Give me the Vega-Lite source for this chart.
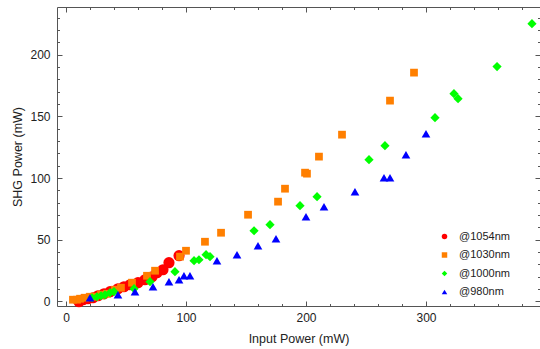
{
  "$schema": "https://vega.github.io/schema/vega-lite/v6.json",
  "autosize": "none",
  "width": 483,
  "height": 299,
  "padding": {"left": 57, "top": 7, "right": 0, "bottom": 43},
  "background": "white",
  "config": {
    "view": {"stroke": "#555555", "strokeWidth": 1},
    "font": "Liberation Sans",
    "axis": {"domain": false, "grid": false, "tickColor": "#555555", "labelColor": "#222222", "titleColor": "#222222", "labelFont": "Liberation Sans", "titleFont": "Liberation Sans", "labelFontSize": 12, "titleFontSize": 12.5, "titleFontWeight": "normal"},
    "legend": {"symbolSize": 30}
  },
  "data": {"values": [
    {"series": "@1054nm", "p": 10.8, "shg": -0.2},
    {"series": "@1054nm", "p": 14.2, "shg": 1.4},
    {"series": "@1054nm", "p": 18.3, "shg": 2.2},
    {"series": "@1054nm", "p": 22.5, "shg": 3.0},
    {"series": "@1054nm", "p": 26.7, "shg": 4.6},
    {"series": "@1054nm", "p": 31.7, "shg": 6.2},
    {"series": "@1054nm", "p": 36.7, "shg": 7.9},
    {"series": "@1054nm", "p": 43.3, "shg": 10.3},
    {"series": "@1054nm", "p": 48.3, "shg": 11.9},
    {"series": "@1054nm", "p": 53.3, "shg": 13.5},
    {"series": "@1054nm", "p": 60.0, "shg": 15.2},
    {"series": "@1054nm", "p": 65.8, "shg": 17.6},
    {"series": "@1054nm", "p": 71.7, "shg": 20.0},
    {"series": "@1054nm", "p": 75.8, "shg": 23.3},
    {"series": "@1054nm", "p": 80.8, "shg": 25.7},
    {"series": "@1054nm", "p": 85.8, "shg": 31.4},
    {"series": "@1054nm", "p": 94.2, "shg": 37.1},
    {"series": "@1030nm", "p": 5.8, "shg": 1.4},
    {"series": "@1030nm", "p": 9.2, "shg": 1.4},
    {"series": "@1030nm", "p": 11.7, "shg": 2.2},
    {"series": "@1030nm", "p": 15.8, "shg": 3.0},
    {"series": "@1030nm", "p": 20.0, "shg": 3.8},
    {"series": "@1030nm", "p": 24.2, "shg": 3.8},
    {"series": "@1030nm", "p": 29.2, "shg": 5.4},
    {"series": "@1030nm", "p": 34.2, "shg": 6.2},
    {"series": "@1030nm", "p": 40.8, "shg": 9.5},
    {"series": "@1030nm", "p": 45.8, "shg": 11.1},
    {"series": "@1030nm", "p": 55.0, "shg": 15.2},
    {"series": "@1030nm", "p": 67.5, "shg": 20.8},
    {"series": "@1030nm", "p": 74.2, "shg": 24.9},
    {"series": "@1030nm", "p": 95.0, "shg": 36.3},
    {"series": "@1030nm", "p": 100.0, "shg": 41.1},
    {"series": "@1030nm", "p": 115.8, "shg": 48.4},
    {"series": "@1030nm", "p": 129.2, "shg": 55.7},
    {"series": "@1030nm", "p": 151.7, "shg": 70.3},
    {"series": "@1030nm", "p": 176.7, "shg": 80.9},
    {"series": "@1030nm", "p": 182.5, "shg": 91.4},
    {"series": "@1030nm", "p": 199.2, "shg": 104.4},
    {"series": "@1030nm", "p": 200.8, "shg": 103.6},
    {"series": "@1030nm", "p": 210.8, "shg": 117.4},
    {"series": "@1030nm", "p": 230.0, "shg": 135.2},
    {"series": "@1030nm", "p": 270.0, "shg": 162.8},
    {"series": "@1030nm", "p": 290.0, "shg": 185.5},
    {"series": "@1000nm", "p": 21.7, "shg": 3.0},
    {"series": "@1000nm", "p": 25.8, "shg": 3.8},
    {"series": "@1000nm", "p": 29.2, "shg": 4.6},
    {"series": "@1000nm", "p": 32.5, "shg": 5.4},
    {"series": "@1000nm", "p": 36.7, "shg": 7.1},
    {"series": "@1000nm", "p": 40.0, "shg": 7.9},
    {"series": "@1000nm", "p": 56.7, "shg": 10.3},
    {"series": "@1000nm", "p": 70.0, "shg": 16.0},
    {"series": "@1000nm", "p": 90.8, "shg": 24.1},
    {"series": "@1000nm", "p": 106.7, "shg": 33.0},
    {"series": "@1000nm", "p": 110.8, "shg": 33.8},
    {"series": "@1000nm", "p": 116.7, "shg": 37.9},
    {"series": "@1000nm", "p": 120.0, "shg": 36.3},
    {"series": "@1000nm", "p": 156.7, "shg": 57.3},
    {"series": "@1000nm", "p": 170.0, "shg": 62.2},
    {"series": "@1000nm", "p": 195.0, "shg": 77.6},
    {"series": "@1000nm", "p": 209.2, "shg": 84.9},
    {"series": "@1000nm", "p": 252.5, "shg": 114.9},
    {"series": "@1000nm", "p": 265.8, "shg": 126.3},
    {"series": "@1000nm", "p": 307.5, "shg": 149.0},
    {"series": "@1000nm", "p": 323.3, "shg": 168.4},
    {"series": "@1000nm", "p": 326.7, "shg": 164.4},
    {"series": "@1000nm", "p": 359.2, "shg": 190.4},
    {"series": "@1000nm", "p": 388.3, "shg": 225.2},
    {"series": "@980nm", "p": 20.0, "shg": 3.0},
    {"series": "@980nm", "p": 43.3, "shg": 5.4},
    {"series": "@980nm", "p": 57.5, "shg": 7.9},
    {"series": "@980nm", "p": 72.5, "shg": 11.9},
    {"series": "@980nm", "p": 85.8, "shg": 16.0},
    {"series": "@980nm", "p": 94.2, "shg": 17.6},
    {"series": "@980nm", "p": 98.3, "shg": 20.8},
    {"series": "@980nm", "p": 103.3, "shg": 20.8},
    {"series": "@980nm", "p": 125.8, "shg": 33.0},
    {"series": "@980nm", "p": 142.5, "shg": 37.9},
    {"series": "@980nm", "p": 160.0, "shg": 45.2},
    {"series": "@980nm", "p": 175.0, "shg": 50.9},
    {"series": "@980nm", "p": 200.0, "shg": 68.7},
    {"series": "@980nm", "p": 215.0, "shg": 76.8},
    {"series": "@980nm", "p": 240.8, "shg": 89.0},
    {"series": "@980nm", "p": 265.0, "shg": 100.3},
    {"series": "@980nm", "p": 270.0, "shg": 100.3},
    {"series": "@980nm", "p": 283.3, "shg": 119.0},
    {"series": "@980nm", "p": 300.0, "shg": 136.0}
  ]},
  "resolve": {"axis": {"x": "independent", "y": "independent"}},
  "layer": [
    {
      "transform": [{"filter": "datum.series === '@1054nm'"}],
      "mark": {"type": "point", "filled": true, "opacity": 1, "size": 125},
      "encoding": {
        "x": {"field": "p", "type": "quantitative", "scale": {"domain": [-7.5, 395], "nice": false, "zero": false},
              "axis": {"orient": "bottom", "values": [0, 100, 200, 300], "tickSize": -5, "labelPadding": 11, "title": "Input Power (mW)", "titlePadding": 9}},
        "y": {"field": "shg", "type": "quantitative", "scale": {"domain": [-3.7, 238.7], "nice": false, "zero": false},
              "axis": {"orient": "left", "values": [0, 50, 100, 150, 200], "tickSize": -5, "labelPadding": 12, "title": "SHG Power (mW)", "titlePadding": 5}},
        "color": {"field": "series", "type": "nominal",
                  "scale": {"domain": ["@1054nm", "@1030nm", "@1000nm", "@980nm"], "range": ["#ff0000", "#ff7f00", "#00ff00", "#0000ff"]},
                  "legend": {"title": null, "orient": "none", "legendX": 382, "legendY": 224, "labelFont": "Liberation Sans", "labelFontSize": 11, "labelColor": "#222222", "symbolSize": 30, "rowPadding": 6.5, "labelOffset": 9, "symbolStrokeWidth": 0}},
        "shape": {"field": "series", "type": "nominal",
                  "scale": {"domain": ["@1054nm", "@1030nm", "@1000nm", "@980nm"], "range": ["circle", "square", "diamond", "triangle-up"]}}
      }
    },
    {
      "transform": [{"filter": "datum.series === '@1030nm'"}],
      "mark": {"type": "point", "filled": true, "opacity": 1, "size": 60},
      "encoding": {
        "x": {"field": "p", "type": "quantitative", "axis": null},
        "y": {"field": "shg", "type": "quantitative", "axis": null},
        "color": {"field": "series", "type": "nominal"},
        "shape": {"field": "series", "type": "nominal"}
      }
    },
    {
      "transform": [{"filter": "datum.series === '@1000nm'"}],
      "mark": {"type": "point", "filled": true, "opacity": 1, "size": 85},
      "encoding": {
        "x": {"field": "p", "type": "quantitative", "axis": null},
        "y": {"field": "shg", "type": "quantitative", "axis": null},
        "color": {"field": "series", "type": "nominal"},
        "shape": {"field": "series", "type": "nominal"}
      }
    },
    {
      "transform": [{"filter": "datum.series === '@980nm'"}],
      "mark": {"type": "point", "filled": true, "opacity": 1, "size": 75},
      "encoding": {
        "x": {"field": "p", "type": "quantitative", "axis": null},
        "y": {"field": "shg", "type": "quantitative", "axis": null},
        "color": {"field": "series", "type": "nominal"},
        "shape": {"field": "series", "type": "nominal"}
      }
    },
    {
      "mark": {"type": "point", "opacity": 0},
      "encoding": {
        "x": {"field": "p", "type": "quantitative", "axis": {"orient": "bottom", "values": [20, 40, 60, 80, 120, 140, 160, 180, 220, 240, 260, 280, 320, 340, 360, 380], "tickSize": -2.5, "labels": false, "title": null}},
        "y": {"field": "shg", "type": "quantitative", "axis": {"orient": "left", "values": [10, 20, 30, 40, 60, 70, 80, 90, 110, 120, 130, 140, 160, 170, 180, 190, 210, 220, 230], "tickSize": -2.5, "labels": false, "title": null}}
      }
    },
    {
      "mark": {"type": "point", "opacity": 0},
      "encoding": {
        "x": {"field": "p", "type": "quantitative", "axis": {"orient": "top", "values": [0, 100, 200, 300], "tickSize": -5, "labels": false, "title": null}},
        "y": {"field": "shg", "type": "quantitative", "axis": {"orient": "right", "values": [0, 50, 100, 150, 200], "tickSize": -5, "labels": false, "title": null}}
      }
    },
    {
      "mark": {"type": "point", "opacity": 0},
      "encoding": {
        "x": {"field": "p", "type": "quantitative", "axis": {"orient": "top", "values": [20, 40, 60, 80, 120, 140, 160, 180, 220, 240, 260, 280, 320, 340, 360, 380], "tickSize": -2.5, "labels": false, "title": null}},
        "y": {"field": "shg", "type": "quantitative", "axis": {"orient": "right", "values": [10, 20, 30, 40, 60, 70, 80, 90, 110, 120, 130, 140, 160, 170, 180, 190, 210, 220, 230], "tickSize": -2.5, "labels": false, "title": null}}
      }
    }
  ]
}
